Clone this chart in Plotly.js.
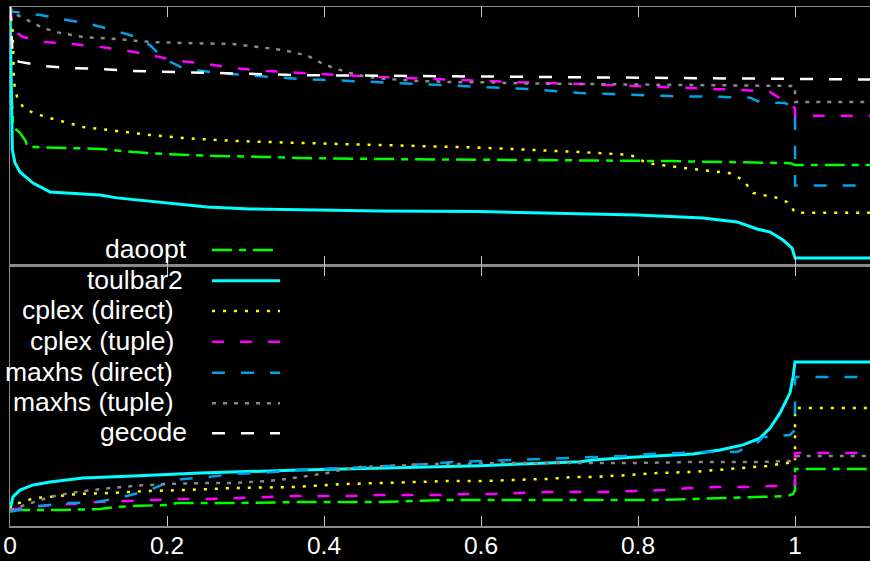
<!DOCTYPE html>
<html>
<head>
<meta charset="utf-8">
<script src="https://cdn.plot.ly/plotly-3.0.1.min.js"></script>
<style>html,body{margin:0;padding:0;background:#000;}#chart{width:870px;height:561px;}</style>
</head>
<body>
<div id="chart"></div>
<script>
// ---------- data (top panel) ----------
const daooptTopX = [0, 0.0013, 0.0035, 0.0038, 0.0127, 0.0191, 0.0229, 0.0344, 0.1146, 0.1567, 0.2, 0.2637, 0.3274, 0.3694, 0.4713, 0.5987, 0.7134, 0.8408, 0.9682, 0.9936, 1.0, 1.1];
const daooptTopY = [1.0, 0.680, 0.591, 0.537, 0.514, 0.486, 0.459, 0.459, 0.452, 0.440, 0.432, 0.425, 0.421, 0.417, 0.413, 0.409, 0.408, 0.405, 0.400, 0.397, 0.390, 0.390];

const toulbarTopX = [0, 0.0013, 0.0025, 0.003, 0.0064, 0.0127, 0.0293, 0.051, 0.093, 0.1146, 0.1363, 0.1783, 0.2204, 0.251, 0.3057, 0.3694, 0.4713, 0.5987, 0.7134, 0.7987, 0.8828, 0.9261, 0.9516, 0.9682, 0.9847, 0.9962, 1.0, 1.1];
const toulbarTopY = [1.0, 0.795, 0.564, 0.448, 0.398, 0.363, 0.320, 0.286, 0.278, 0.274, 0.263, 0.251, 0.239, 0.228, 0.220, 0.216, 0.212, 0.210, 0.203, 0.197, 0.185, 0.170, 0.143, 0.131, 0.100, 0.069, 0.031, 0.031];

const cplexDirectTopX = [0, 0.0013, 0.0035, 0.0051, 0.0089, 0.0166, 0.0293, 0.051, 0.093, 0.1363, 0.1783, 0.2204, 0.2841, 0.3694, 0.4713, 0.5987, 0.7261, 0.7771, 0.7898, 0.7987, 0.8115, 0.8624, 0.9172, 0.9338, 0.9465, 0.9771, 0.9898, 0.9962, 1.0, 1.1];
const cplexDirectTopY = [1.0, 0.950, 0.900, 0.707, 0.653, 0.614, 0.591, 0.571, 0.537, 0.521, 0.506, 0.494, 0.483, 0.475, 0.467, 0.457, 0.440, 0.432, 0.429, 0.417, 0.397, 0.377, 0.358, 0.332, 0.282, 0.263, 0.247, 0.224, 0.206, 0.206];

const cplexTupleTopX = [0, 0.0013, 0.0038, 0.0089, 0.0166, 0.042, 0.0803, 0.1146, 0.144, 0.1783, 0.2076, 0.251, 0.2841, 0.3274, 0.3694, 0.4076, 0.4713, 0.535, 0.5987, 0.6624, 0.7261, 0.7516, 0.8191, 0.8573, 0.8955, 0.9299, 0.9682, 0.9898, 1.0, 1.0, 1.1];
const cplexTupleTopY = [1.0, 0.977, 0.923, 0.900, 0.884, 0.865, 0.857, 0.846, 0.834, 0.815, 0.795, 0.780, 0.764, 0.753, 0.745, 0.739, 0.730, 0.722, 0.714, 0.708, 0.703, 0.700, 0.691, 0.687, 0.683, 0.680, 0.672, 0.629, 0.610, 0.580, 0.580];

const maxhsDirectTopX = [0, 0.0022, 0.0382, 0.0726, 0.1019, 0.1312, 0.1567, 0.1783, 0.1873, 0.2, 0.2204, 0.2637, 0.3057, 0.3401, 0.3694, 0.4076, 0.4713, 0.535, 0.5987, 0.6624, 0.7261, 0.7771, 0.8408, 0.9045, 0.9427, 0.949, 0.9554, 0.9873, 0.9975, 1.0, 1.0, 1.1];
const maxhsDirectTopY = [1.0, 0.982, 0.969, 0.950, 0.934, 0.911, 0.888, 0.853, 0.826, 0.795, 0.764, 0.745, 0.737, 0.730, 0.722, 0.718, 0.709, 0.702, 0.691, 0.683, 0.668, 0.663, 0.656, 0.653, 0.650, 0.641, 0.633, 0.629, 0.614, 0.583, 0.311, 0.311];

const maxhsTupleTopX = [0, 0.0038, 0.0217, 0.042, 0.0637, 0.093, 0.1363, 0.1783, 0.2204, 0.2841, 0.3478, 0.3694, 0.3822, 0.3987, 0.4204, 0.4331, 0.4548, 0.4803, 0.5223, 0.5643, 0.6076, 0.6497, 0.7172, 0.8408, 0.9682, 1.0, 1.0, 1.1];
const maxhsTupleTopY = [1.0, 0.977, 0.950, 0.919, 0.900, 0.884, 0.876, 0.865, 0.861, 0.857, 0.834, 0.819, 0.807, 0.780, 0.757, 0.745, 0.730, 0.722, 0.714, 0.710, 0.709, 0.705, 0.703, 0.699, 0.695, 0.695, 0.633, 0.633];

const gecodeTopX = [0, 0.0013, 0.0038, 0.0127, 0.042, 0.0803, 0.1146, 0.1567, 0.2, 0.2637, 0.3694, 0.4713, 0.5987, 0.7261, 0.8408, 1.0, 1.1];
const gecodeTopY = [1.0, 0.911, 0.795, 0.788, 0.772, 0.764, 0.761, 0.753, 0.749, 0.745, 0.737, 0.735, 0.732, 0.730, 0.726, 0.722, 0.720];

// ---------- data (bottom panel) ----------
const daooptBotX = [0, 0.0217, 0.0637, 0.1146, 0.1338, 0.1567, 0.2, 0.2127, 0.2255, 0.2841, 0.3605, 0.4115, 0.4624, 0.5134, 0.5567, 0.7223, 0.8191, 0.8701, 0.921, 0.9643, 0.9898, 0.9975, 1.0, 1.0, 1.1];
const daooptBotY = [0.062, 0.062, 0.062, 0.065, 0.073, 0.077, 0.081, 0.088, 0.088, 0.088, 0.092, 0.092, 0.092, 0.096, 0.100, 0.100, 0.100, 0.104, 0.108, 0.112, 0.115, 0.123, 0.138, 0.219, 0.219];

const toulbarBotX = [0, 0.0038, 0.0127, 0.0293, 0.051, 0.093, 0.1567, 0.242, 0.3694, 0.4713, 0.5987, 0.7261, 0.7427, 0.786, 0.828, 0.8701, 0.9045, 0.9338, 0.9554, 0.9682, 0.9809, 0.9936, 0.9975, 1.0, 1.1];
const toulbarBotY = [0.062, 0.112, 0.138, 0.158, 0.169, 0.185, 0.192, 0.204, 0.215, 0.223, 0.232, 0.247, 0.254, 0.263, 0.269, 0.277, 0.292, 0.312, 0.338, 0.377, 0.435, 0.512, 0.573, 0.631, 0.631];

const cplexDirectBotX = [0, 0.0038, 0.0191, 0.0318, 0.051, 0.0854, 0.1274, 0.1783, 0.2204, 0.2841, 0.3605, 0.386, 0.4293, 0.4713, 0.5134, 0.5567, 0.5987, 0.6408, 0.6841, 0.7172, 0.7427, 0.786, 0.828, 0.8701, 0.9134, 0.9389, 0.9643, 0.9898, 0.9975, 1.0, 1.0, 1.1];
const cplexDirectBotY = [0.062, 0.081, 0.096, 0.108, 0.112, 0.123, 0.127, 0.135, 0.138, 0.146, 0.150, 0.154, 0.162, 0.165, 0.169, 0.173, 0.173, 0.177, 0.181, 0.188, 0.188, 0.196, 0.204, 0.208, 0.219, 0.223, 0.231, 0.242, 0.246, 0.246, 0.454, 0.454];

const cplexTupleBotX = [0, 0.0382, 0.1108, 0.144, 0.1822, 0.2166, 0.2548, 0.2892, 0.3274, 0.3605, 0.4331, 0.4713, 0.5439, 0.5771, 0.6153, 0.6497, 0.6879, 0.7223, 0.7605, 0.7962, 0.8318, 0.8662, 0.9019, 0.9389, 0.972, 0.9936, 1.0, 1.0, 1.1];
const cplexTupleBotY = [0.062, 0.077, 0.092, 0.096, 0.100, 0.104, 0.104, 0.108, 0.112, 0.115, 0.115, 0.119, 0.119, 0.123, 0.123, 0.127, 0.131, 0.131, 0.131, 0.135, 0.138, 0.146, 0.150, 0.150, 0.154, 0.158, 0.158, 0.281, 0.281];

const maxhsDirectBotX = [0, 0.0382, 0.0726, 0.1108, 0.144, 0.1783, 0.2076, 0.251, 0.2841, 0.3185, 0.3529, 0.386, 0.4242, 0.4586, 0.493, 0.5312, 0.5643, 0.5987, 0.6369, 0.6713, 0.7096, 0.7427, 0.7803, 0.8153, 0.8535, 0.8879, 0.9261, 0.9516, 0.9592, 0.9847, 0.9936, 1.0, 1.0, 1.1];
const maxhsDirectBotY = [0.055, 0.077, 0.088, 0.092, 0.112, 0.138, 0.177, 0.188, 0.200, 0.204, 0.212, 0.219, 0.223, 0.227, 0.231, 0.238, 0.246, 0.250, 0.254, 0.258, 0.262, 0.265, 0.269, 0.277, 0.281, 0.285, 0.285, 0.319, 0.342, 0.346, 0.350, 0.369, 0.573, 0.573];

const maxhsTupleBotX = [0, 0.0255, 0.051, 0.0764, 0.1146, 0.1567, 0.2, 0.242, 0.2841, 0.3274, 0.3529, 0.3783, 0.4038, 0.4204, 0.4459, 0.4879, 0.5312, 0.5732, 0.6153, 0.6586, 0.7096, 0.786, 0.8701, 0.9554, 0.9936, 1.0, 1.1];
const maxhsTupleBotY = [0.062, 0.088, 0.112, 0.127, 0.142, 0.154, 0.162, 0.165, 0.165, 0.173, 0.181, 0.192, 0.204, 0.215, 0.227, 0.231, 0.238, 0.238, 0.242, 0.242, 0.242, 0.242, 0.246, 0.246, 0.250, 0.269, 0.269];

// ---------- labels ----------
const seriesNames = ["daoopt", "toulbar2", "cplex (direct)", "cplex (tuple)", "maxhs (direct)", "maxhs (tuple)", "gecode"];
const tickVals = [0, 0.2, 0.4, 0.6, 0.8, 1];
const tickLabels = ["0", "0.2", "0.4", "0.6", "0.8", "1"];

// ---------- styles ----------
const styles = [
  {color: "#00ff00", width: 2.5, dash: "20px,7px,7px,7px"},
  {color: "#00ffff", width: 3,   dash: "solid"},
  {color: "#ffff00", width: 2.5, dash: "3px,8px"},
  {color: "#ff00ff", width: 2.5, dash: "12px,16px"},
  {color: "#00a2e8", width: 2.5, dash: "13px,16px"},
  {color: "#888888", width: 2.5, dash: "4px,7px"},
  {color: "#ffffff", width: 2.5, dash: "13px,16px"}
];

const topSets = [
  [daooptTopX, daooptTopY], [toulbarTopX, toulbarTopY], [cplexDirectTopX, cplexDirectTopY],
  [cplexTupleTopX, cplexTupleTopY], [maxhsDirectTopX, maxhsDirectTopY], [maxhsTupleTopX, maxhsTupleTopY],
  [gecodeTopX, gecodeTopY]
];
const botSets = [
  [daooptBotX, daooptBotY], [toulbarBotX, toulbarBotY], [cplexDirectBotX, cplexDirectBotY],
  [cplexTupleBotX, cplexTupleBotY], [maxhsDirectBotX, maxhsDirectBotY], [maxhsTupleBotX, maxhsTupleBotY],
  null
];

const traces = [];
topSets.forEach((s, i) => {
  traces.push({x: s[0], y: s[1], xaxis: "x2", yaxis: "y2", mode: "lines", name: seriesNames[i],
    line: {color: styles[i].color, width: styles[i].width, dash: styles[i].dash}, showlegend: false});
});
botSets.forEach((s, i) => {
  if (!s) return;
  traces.push({x: s[0], y: s[1], xaxis: "x", yaxis: "y", mode: "lines", name: seriesNames[i],
    line: {color: styles[i].color, width: styles[i].width, dash: styles[i].dash}, showlegend: false});
});

// ---------- legend (text left, sample line right) ----------
const plotTop = 7, plotBottom = 526, plotLeft = 10, plotW = 860;
const plotH = plotBottom - plotTop;
const legendRowsPx = [250, 280.7, 311, 341.7, 372.7, 403.3, 433.3];
const legendTextRightPx = [189, 185, 176, 176, 175, 176, 189];
const py = p => (plotBottom - p) / plotH;
const px = p => (p - plotLeft) / plotW;

const annotations = seriesNames.map((n, i) => ({
  text: n, xref: "paper", yref: "paper", x: px(legendTextRightPx[i]), y: py(legendRowsPx[i] - 1),
  xanchor: "right", yanchor: "middle", showarrow: false,
  font: {family: "Liberation Sans, Arial, sans-serif", size: 26.5, color: "#ffffff"}
}));
const shapes = seriesNames.map((n, i) => ({
  type: "line", xref: "paper", yref: "paper",
  x0: px(212), x1: px(280), y0: py(legendRowsPx[i]), y1: py(legendRowsPx[i]),
  line: {color: styles[i].color, width: styles[i].width, dash: styles[i].dash}
}));

const axisCommon = {
  range: [0, 1.0955], tickmode: "array", tickvals: tickVals, ticktext: tickLabels,
  ticks: "inside", ticklen: 10, tickwidth: 1, tickcolor: "#c8c8c8",
  showline: true, linecolor: "#8a8a8a", linewidth: 1.5, mirror: "ticks",
  showgrid: false, zeroline: false, fixedrange: true
};

const layout = {
  width: 870, height: 561,
  margin: {l: 10, r: 0, t: 7, b: 35, pad: 0},
  paper_bgcolor: "#000000", plot_bgcolor: "#000000",
  showlegend: false, hovermode: false,
  xaxis: Object.assign({}, axisCommon, {anchor: "y", domain: [0, 1], ticklabelstandoff: -3,
    tickfont: {family: "Liberation Sans, Arial, sans-serif", size: 24.5, color: "#ffffff"}}),
  xaxis2: Object.assign({}, axisCommon, {anchor: "y2", domain: [0, 1], matches: "x", showticklabels: false}),
  yaxis: {domain: [0, 0.501], range: [0, 1], showline: true, linecolor: "#8a8a8a", linewidth: 1.5,
    showticklabels: false, ticks: "", showgrid: false, zeroline: false, fixedrange: true},
  yaxis2: {domain: [0.501, 1], range: [0, 1], showline: true, linecolor: "#8a8a8a", linewidth: 1.5,
    showticklabels: false, ticks: "", showgrid: false, zeroline: false, fixedrange: true},
  annotations: annotations,
  shapes: shapes
};

Plotly.newPlot("chart", traces, layout, {displayModeBar: false, staticPlot: true});
</script>
</body>
</html>
